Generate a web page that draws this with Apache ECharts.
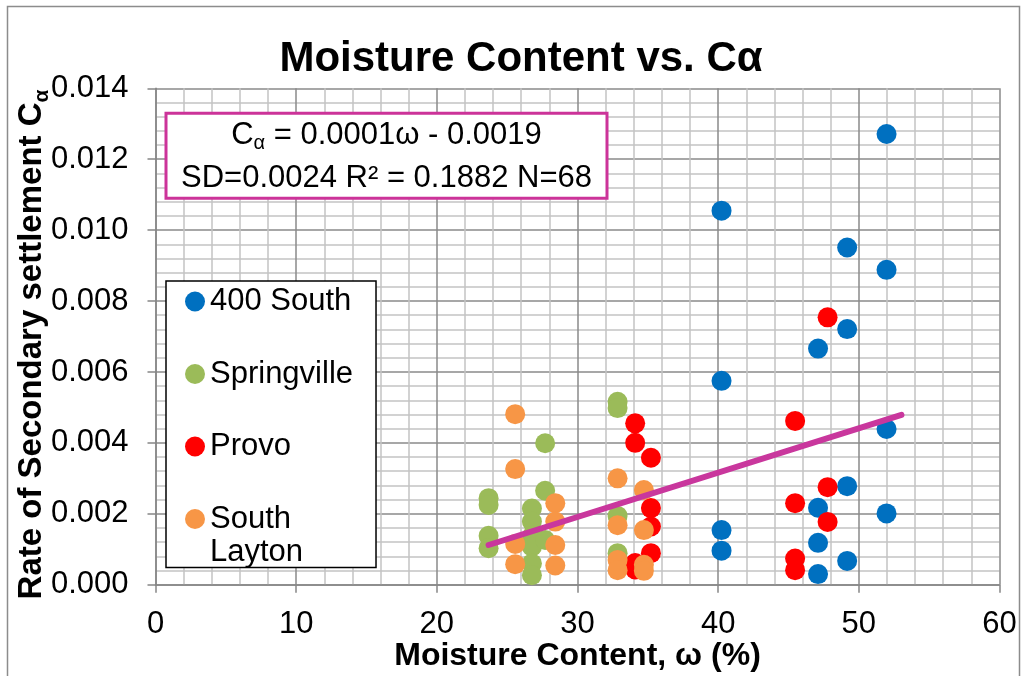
<!DOCTYPE html>
<html><head><meta charset="utf-8">
<script src="https://cdn.jsdelivr.net/npm/echarts@6/dist/echarts.min.js"></script>
<style>html,body{margin:0;padding:0;background:#fff}#c{width:1026px;height:676px}</style>
</head><body><div id="c"></div>
<script>
const seriesNames = ['400 South', 'Springville', 'Provo', 'South Layton'];
const seriesColors = ['#0070C0', '#9BBB59', '#FF0000', '#F79646'];
const south400 = [
  [40.24, 0.01055], [40.24, 0.00575], [40.24, 0.00154], [40.24, 0.00096],
  [47.1, 0.00666], [47.1, 0.00217], [47.1, 0.00118], [47.1, 0.00030],
  [49.17, 0.00951], [49.17, 0.00721], [49.17, 0.00278], [49.17, 0.00067],
  [51.97, 0.01271], [51.97, 0.00888], [51.97, 0.00439], [51.97, 0.00201]
];
const springville = [
  [23.68, 0.00244], [23.68, 0.00225], [23.68, 0.00138], [23.68, 0.00103],
  [26.76, 0.00215], [26.76, 0.00178], [26.76, 0.00137], [26.76, 0.00107], [26.76, 0.00060], [26.76, 0.00027],
  [27.7, 0.00399], [27.7, 0.00265], [27.7, 0.00126],
  [32.85, 0.00516], [32.85, 0.00498], [32.85, 0.00194], [32.85, 0.00089]
];
const provo = [
  [34.1, 0.00455], [34.1, 0.00400], [34.1, 0.00061], [34.1, 0.00043],
  [35.22, 0.00358], [35.22, 0.00216], [35.22, 0.00164], [35.22, 0.00089],
  [45.47, 0.00462], [45.47, 0.00230], [45.47, 0.00074], [45.47, 0.00041],
  [47.78, 0.00754], [47.78, 0.00275], [47.78, 0.00177]
];
const southLayton = [
  [25.57, 0.00481], [25.57, 0.00326], [25.57, 0.00115], [25.57, 0.00058],
  [28.42, 0.00230], [28.42, 0.00178], [28.42, 0.00112], [28.42, 0.00054],
  [32.85, 0.00300], [32.85, 0.00168], [32.85, 0.00070], [32.85, 0.00041],
  [34.72, 0.00267], [34.72, 0.00154], [34.72, 0.00056], [34.72, 0.00039]
];
const trendLine = [[23.68, 0.00112], [53.03, 0.00479]];
const xRange = [0, 60, 10];
const yRange = [0, 0.014, 0.002];
const titleText = 'Moisture Content vs. C\u03b1';
const xName = 'Moisture Content, \u03c9 (%)';
const yName = 'Rate of Secondary settlement C{sub|\u03b1}';
const eqLine1 = '{n|C}{s|\u03b1}{n| = 0.0001\u03c9 - 0.0019}';
const eqLine2 = 'SD=0.0024 R\u00b2 = 0.1882 N=68';

const FONT = 'Liberation Sans, Arial, sans-serif';
const chart = echarts.init(document.getElementById('c'));
const allData = [south400, springville, provo, southLayton];

const option = {
  backgroundColor: '#fff',
  animation: false,
  title: {
    text: titleText, left: 516, top: 33, textAlign: 'center',
    textStyle: { fontFamily: FONT, fontSize: 42, fontWeight: 'bold', color: '#000' }
  },
  grid: { left: 155.5, right: 26.5, top: 88.3, bottom: 91.3, containLabel: false, outerBoundsMode: 'none' },
  legend: {
    orient: 'vertical', left: 166, top: 281,
    padding: [5, 23, 33, 19],
    itemGap: 41.5, itemWidth: 20, itemHeight: 20,
    backgroundColor: '#fff', borderColor: '#000', borderWidth: 1.5,
    data: seriesNames.map(n => ({ name: n, icon: 'circle' })),
    formatter: n => (n === 'South Layton' ? 'South' : n),
    textStyle: { fontFamily: FONT, fontSize: 31, color: '#000', lineHeight: 30 }
  },
  xAxis: {
    type: 'value', min: xRange[0], max: xRange[1], interval: xRange[2],
    name: xName, nameLocation: 'middle', nameGap: 55, nameMoveOverlap: false,
    nameTextStyle: { fontFamily: FONT, fontSize: 32, fontWeight: 'bold', color: '#000' },
    axisLine: { show: true, lineStyle: { color: '#868686', width: 1.5 } },
    axisTick: { show: true, inside: false, length: 8, lineStyle: { color: '#868686', width: 1.5 } },
    minorTick: { show: false, splitNumber: 5 },
    axisLabel: { fontFamily: FONT, fontSize: 31, color: '#000', margin: 24 },
    splitLine: { show: true, lineStyle: { color: '#8A8A8A', width: 1.5 } },
    minorSplitLine: { show: true, lineStyle: { color: '#C4C4C4', width: 1.5 } }
  },
  yAxis: {
    type: 'value', min: yRange[0], max: yRange[1], interval: yRange[2],
    name: yName, nameLocation: 'middle', nameGap: 107, nameMoveOverlap: false,
    nameTextStyle: {
      fontFamily: FONT, fontSize: 33, fontWeight: 'bold', color: '#000', padding: [0, 16, 0, 0],
      rich: { sub: { fontFamily: FONT, fontSize: 21, fontWeight: 'bold', color: '#000', verticalAlign: 'bottom', padding: [0, 0, -4, 0] } }
    },
    axisLine: { show: true, lineStyle: { color: '#868686', width: 1.5 } },
    axisTick: { show: true, inside: false, length: 8, lineStyle: { color: '#868686', width: 1.5 } },
    minorTick: { show: false, splitNumber: 5 },
    axisLabel: { fontFamily: FONT, fontSize: 31, color: '#000', margin: 27, formatter: v => v.toFixed(3) },
    splitLine: { show: true, lineStyle: { color: '#8A8A8A', width: 1.5 } },
    minorSplitLine: { show: true, lineStyle: { color: '#C4C4C4', width: 1.5 } }
  },
  series: seriesNames.map((n, i) => ({
    name: n, type: 'scatter', data: allData[i], symbol: 'circle', symbolSize: 20,
    itemStyle: { color: seriesColors[i], opacity: 1 }, z: 2 + i
  })).concat([{
    name: 'trend', type: 'line', data: trendLine, symbol: 'none', z: 10,
    lineStyle: { color: '#C9379D', width: 6, cap: 'round' }, silent: true
  }]),
  graphic: [
    { type: 'rect', left: 5, top: 4, z: -10, silent: true,
      shape: { width: 1012, height: 700 },
      style: { fill: 'none', stroke: '#8C8C8C', lineWidth: 1.5 } },
    { type: 'rect', z: 100, silent: true,
      shape: { x: 166, y: 113.3, width: 441, height: 85 },
      style: { fill: '#fff', stroke: '#CC3399', lineWidth: 3 } },
    { type: 'text', z: 101, silent: true, x: 386.5, y: 135,
      style: { text: eqLine1, align: 'center', verticalAlign: 'middle', fill: '#000',
        font: '31px ' + FONT,
        rich: { n: { fontFamily: FONT, fontSize: 31, fill: '#000' },
                s: { fontFamily: FONT, fontSize: 20, fill: '#000', verticalAlign: 'bottom', padding: [0, 0, -3, 0] } } } },
    { type: 'text', z: 101, silent: true, x: 386.5, y: 178,
      style: { text: eqLine2, align: 'center', verticalAlign: 'middle', fill: '#000', font: '31px ' + FONT } },
    { type: 'text', z: 101, silent: true, x: 210, y: 552,
      style: { text: 'Layton', align: 'left', verticalAlign: 'middle', fill: '#000', font: '31px ' + FONT } }
  ]
};
chart.setOption(option);
</script>
</body></html>
